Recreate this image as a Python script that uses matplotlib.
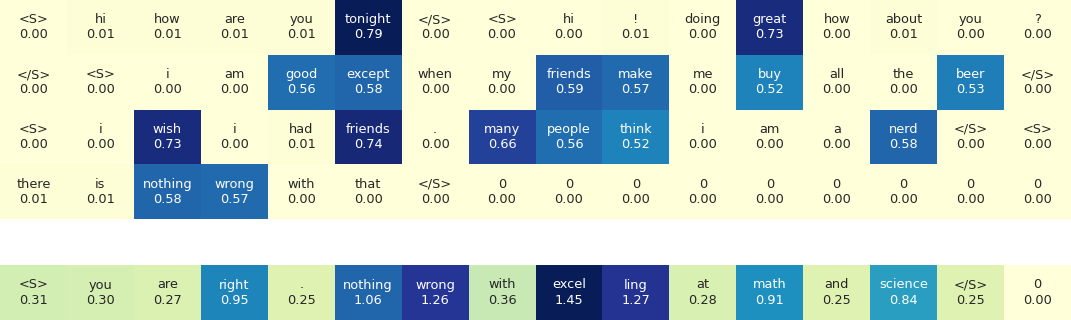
import numpy as np
import matplotlib
matplotlib.use("Agg")
import matplotlib.pyplot as plt
import seaborn as sns

# Top heatmap: tokens and weights (4 rows x 16 cols)
top_tokens_r0 = ["<S>", "hi", "how", "are", "you", "tonight", "</S>", "<S>", "hi", "!", "doing", "great", "how", "about", "you", "?"]
top_values_r0 = [0.00, 0.01, 0.01, 0.01, 0.01, 0.79, 0.00, 0.00, 0.00, 0.01, 0.00, 0.73, 0.00, 0.01, 0.00, 0.00]
top_tokens_r1 = ["</S>", "<S>", "i", "am", "good", "except", "when", "my", "friends", "make", "me", "buy", "all", "the", "beer", "</S>"]
top_values_r1 = [0.00, 0.00, 0.00, 0.00, 0.56, 0.58, 0.00, 0.00, 0.59, 0.57, 0.00, 0.52, 0.00, 0.00, 0.53, 0.00]
top_tokens_r2 = ["<S>", "i", "wish", "i", "had", "friends", ".", "many", "people", "think", "i", "am", "a", "nerd", "</S>", "<S>"]
top_values_r2 = [0.00, 0.00, 0.73, 0.00, 0.01, 0.74, 0.00, 0.66, 0.56, 0.52, 0.00, 0.00, 0.00, 0.58, 0.00, 0.00]
top_tokens_r3 = ["there", "is", "nothing", "wrong", "with", "that", "</S>", "0", "0", "0", "0", "0", "0", "0", "0", "0"]
top_values_r3 = [0.01, 0.01, 0.58, 0.57, 0.00, 0.00, 0.00, 0.00, 0.00, 0.00, 0.00, 0.00, 0.00, 0.00, 0.00, 0.00]

# Bottom heatmap: tokens and weights (1 row x 16 cols)
bot_tokens = ["<S>", "you", "are", "right", ".", "nothing", "wrong", "with", "excel", "ling", "at", "math", "and", "science", "</S>", "0"]
bot_values = [0.31, 0.30, 0.27, 0.95, 0.25, 1.06, 1.26, 0.36, 1.45, 1.27, 0.28, 0.91, 0.25, 0.84, 0.25, 0.00]

top_tokens = [top_tokens_r0, top_tokens_r1, top_tokens_r2, top_tokens_r3]
top_values = np.array([top_values_r0, top_values_r1, top_values_r2, top_values_r3])

def labels(toks, vals):
    return np.array([[f"{t}\n{v:.2f}" for t, v in zip(tr, vr)] for tr, vr in zip(toks, vals)])

W, H = 1071, 320
fig = plt.figure(figsize=(W / 100, H / 100), dpi=100)
ax1 = fig.add_axes([0, 1 - 219 / H, 1, 219 / H])
ax2 = fig.add_axes([0, 0, 1, 55 / H])

FS = 9.3
sns.heatmap(top_values, annot=labels(top_tokens, top_values), fmt="", cmap="YlGnBu",
            cbar=False, ax=ax1, xticklabels=False, yticklabels=False,
            annot_kws={"fontsize": FS})
bv = np.array([bot_values])
sns.heatmap(bv, annot=labels([bot_tokens], bv), fmt="", cmap="YlGnBu",
            cbar=False, ax=ax2, xticklabels=False, yticklabels=False,
            annot_kws={"fontsize": FS})

fig.savefig("out.png", dpi=100)
